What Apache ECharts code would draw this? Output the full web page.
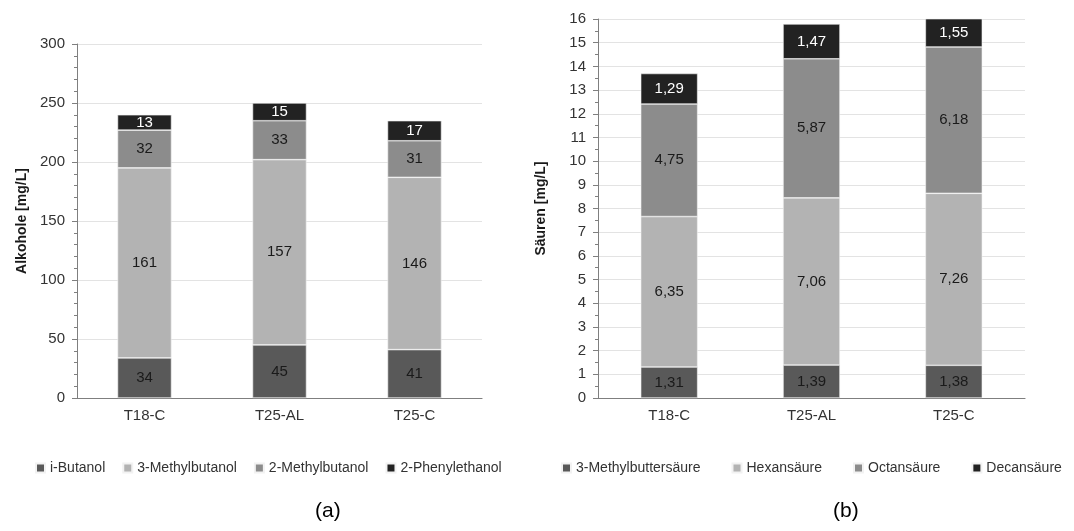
<!DOCTYPE html>
<html><head><meta charset="utf-8">
<script src="https://cdn.jsdelivr.net/npm/echarts@6/dist/echarts.min.js"></script>
<style>html,body{margin:0;padding:0;background:#fff}#c{width:1074px;height:531px}</style>
</head><body><div id="c"></div>
<script>
const categories = ['T18-C', 'T25-AL', 'T25-C'];
const alkSeriesNames = ['i-Butanol', '3-Methylbutanol', '2-Methylbutanol', '2-Phenylethanol'];
const iButanol = [34, 45, 41];
const methylbutanol3 = [161, 157, 146];
const methylbutanol2 = [32, 33, 31];
const phenylethanol = [13, 15, 17];
const saeSeriesNames = ['3-Methylbuttersäure', 'Hexansäure', 'Octansäure', 'Decansäure'];
const methylbuttersaeure = [1.31, 1.39, 1.38];
const hexansaeure = [6.35, 7.06, 7.26];
const octansaeure = [4.75, 5.87, 6.18];
const decansaeure = [1.29, 1.47, 1.55];

const colors = ['#595959', '#b3b3b3', '#8c8c8c', '#222222'];
const labelColors = ['#1a1a1a', '#1a1a1a', '#1a1a1a', '#ffffff'];
const FONT = 'Liberation Sans, Arial, sans-serif';

function mkSeries(name, data, i, axisIdx, fmt) {
  return {
    name, type: 'bar', stack: 's' + axisIdx, data,
    xAxisIndex: axisIdx, yAxisIndex: axisIdx,
    barWidth: '40%',
    itemStyle: { color: colors[i], borderColor: '#f2f2f2', borderWidth: 0.6 },
    label: { show: true, position: 'inside', color: labelColors[i], fontFamily: FONT, fontSize: 15, formatter: fmt },
    emphasis: { disabled: true }
  };
}
const fmtInt = p => String(p.value);
const fmtDec = p => p.value.toFixed(2).replace('.', ',');

const alkData = [iButanol, methylbutanol3, methylbutanol2, phenylethanol];
const saeData = [methylbuttersaeure, hexansaeure, octansaeure, decansaeure];

const yBase = {
  type: 'value',
  axisLine: { show: true, lineStyle: { color: '#7f7f7f', width: 1 } },
  axisTick: { show: true, inside: false, length: 5, lineStyle: { color: '#7f7f7f' } },
  minorTick: { show: true, length: 3, lineStyle: { color: '#7f7f7f' } },
  splitLine: { show: true, lineStyle: { color: '#e3e3e3', width: 1 } },
  axisLabel: { color: '#333', fontFamily: FONT, fontSize: 15, margin: 12 },
  nameLocation: 'middle', nameRotate: 90,
  nameTextStyle: { color: '#1a1a1a', fontFamily: FONT, fontSize: 14, fontWeight: 'bold' }
};
const xBase = {
  type: 'category', data: categories,
  axisLine: { show: true, lineStyle: { color: '#7f7f7f', width: 1.2 } },
  axisTick: { show: false },
  axisLabel: { color: '#333', fontFamily: FONT, fontSize: 15, margin: 10 }
};

const option = {
  animation: false,
  backgroundColor: '#ffffff',
  title: [
    { text: '(a)', left: 310, top: 496, textStyle: { fontFamily: FONT, fontSize: 21, fontWeight: 'normal', color: '#000' } },
    { text: '(b)', left: 828, top: 496, textStyle: { fontFamily: FONT, fontSize: 21, fontWeight: 'normal', color: '#000' } }
  ],
  grid: [
    { left: 77, right: 1074 - 482, top: 44, bottom: 531 - 398 },
    { left: 598, right: 1074 - 1025, top: 19, bottom: 531 - 398 }
  ],
  legend: [
    { data: alkSeriesNames, left: 30, top: 456, width: 520, itemWidth: 9, itemHeight: 9, itemGap: 17, icon: 'rect',
      textStyle: { fontFamily: FONT, fontSize: 14, color: '#333' } },
    { data: saeSeriesNames, left: 561, top: 461, width: 513, itemWidth: 9, itemHeight: 9, itemGap: 31, icon: 'rect',
      padding: 0, textStyle: { fontFamily: FONT, fontSize: 14, color: '#333' } }
  ],
  xAxis: [
    Object.assign({}, xBase, { gridIndex: 0 }),
    Object.assign({}, xBase, { gridIndex: 1 })
  ],
  yAxis: [
    Object.assign({}, yBase, { gridIndex: 0, min: 0, max: 300, interval: 50, minorTick: Object.assign({}, yBase.minorTick, { splitNumber: 5 }), name: 'Alkohole [mg/L]', nameGap: 48 }),
    Object.assign({}, yBase, { gridIndex: 1, min: 0, max: 16, interval: 1, minorTick: Object.assign({}, yBase.minorTick, { splitNumber: 2 }), name: 'Säuren [mg/L]', nameGap: 50 })
  ],
  series: [
    ...alkSeriesNames.map((n, i) => mkSeries(n, alkData[i], i, 0, fmtInt)),
    ...saeSeriesNames.map((n, i) => Object.assign(mkSeries(n, saeData[i], i, 1, fmtDec), { clip: true }))
  ]
};
const chart = echarts.init(document.getElementById('c'), null, { renderer: 'canvas' });
chart.setOption(option);
</script></body></html>
